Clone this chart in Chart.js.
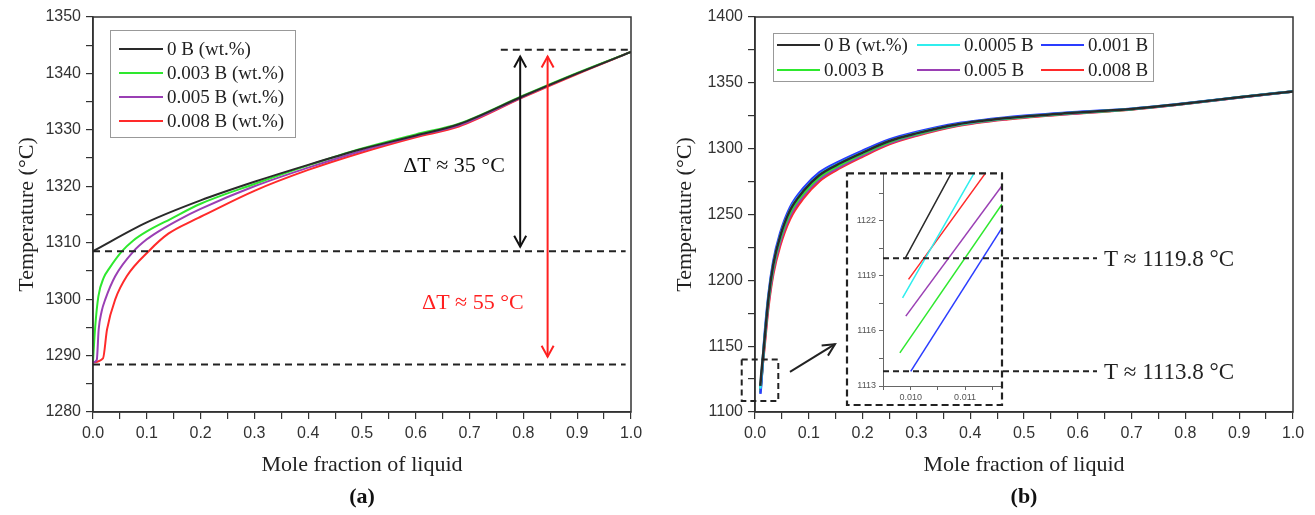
<!DOCTYPE html>
<html>
<head>
<meta charset="utf-8">
<script src="https://cdn.jsdelivr.net/npm/chart.js@4.4.1/dist/chart.umd.min.js"></script>
<style>
  html, body { margin: 0; padding: 0; background: #fff; }
  #wrap { position: relative; width: 1315px; height: 515px; overflow: hidden; }
  canvas { position: absolute; }
</style>
</head>
<body>
<div id="wrap">
  <canvas id="chartA" width="660" height="515" style="left:0;top:0"></canvas>
  <canvas id="chartB" width="655" height="515" style="left:660px;top:0"></canvas>
  <canvas id="inset" width="400" height="250" style="left:840px;top:165px"></canvas>
</div>
<script>
// ---- panel (a) : liquid fraction vs temperature ----
const fracA_0B   = [0, 0.1, 0.2, 0.3, 0.4, 0.5, 0.6, 0.68, 0.8, 0.9, 1.0];
const tempA_0B   = [1308.5, 1313.6, 1317.5, 1320.8, 1323.8, 1326.6, 1329.0, 1331.0, 1336.0, 1340.0, 1343.8];
const fracA_003  = [0, 0.004, 0.01, 0.02, 0.03, 0.054, 0.075, 0.1, 0.144, 0.2, 0.3, 0.4, 0.5, 0.6, 0.68, 0.8, 0.9, 1.0];
const tempA_003  = [1289.0, 1295.0, 1300.5, 1303.8, 1305.4, 1308.5, 1310.4, 1312.0, 1314.2, 1316.9, 1320.4, 1323.7, 1326.7, 1329.2, 1331.1, 1336.1, 1340.1, 1343.8];
const fracA_005  = [0, 0.007, 0.0105, 0.016, 0.023, 0.0415, 0.0756, 0.1, 0.125, 0.162, 0.2, 0.3, 0.4, 0.5, 0.6, 0.68, 0.8, 0.9, 1.0];
const tempA_005  = [1288.8, 1289.2, 1294.6, 1297.8, 1300.0, 1304.1, 1308.5, 1310.6, 1312.2, 1314.2, 1316.0, 1320.0, 1323.3, 1326.3, 1328.9, 1330.8, 1335.9, 1340.0, 1343.8];
const fracA_008  = [0, 0.0186, 0.026, 0.0415, 0.063, 0.1035, 0.14, 0.187, 0.2, 0.3, 0.4, 0.5, 0.6, 0.68, 0.8, 0.9, 1.0];
const tempA_008  = [1288.8, 1289.5, 1294.6, 1300.0, 1304.1, 1308.5, 1311.6, 1314.0, 1314.6, 1319.2, 1322.9, 1326.0, 1328.7, 1330.6, 1335.8, 1339.9, 1343.8];
const labelsA    = ['0 B (wt.%)', '0.003 B (wt.%)', '0.005 B (wt.%)', '0.008 B (wt.%)'];

// ---- panel (b) : first two points of each series are the ones seen in the inset ----
const fracB_0B    = [0.00989, 0.01075, 0.0167, 0.025, 0.034, 0.0465, 0.065, 0.09, 0.12, 0.16, 0.2, 0.25, 0.3, 0.375, 0.47, 0.59, 0.7, 0.78, 0.9, 1.0];
const tempB_0B    = [1119.9, 1124.6, 1150.5, 1186.5, 1212.0, 1233.0, 1253.0, 1267.8, 1280.0, 1289.3, 1297.0, 1305.8, 1311.6, 1318.4, 1323.3, 1327.2, 1330.1, 1333.4, 1339.0, 1343.5];
const fracB_0005  = [0.00985, 0.01117, 0.0167, 0.025, 0.034, 0.0465, 0.065, 0.09, 0.12, 0.16, 0.2, 0.25, 0.3, 0.375, 0.47, 0.59, 0.7, 0.78, 0.9, 1.0];
const tempB_0005  = [1117.8, 1124.6, 1150.8, 1186.8, 1212.2, 1233.2, 1253.2, 1268.0, 1280.2, 1289.5, 1297.1, 1305.9, 1311.7, 1318.4, 1323.3, 1327.2, 1330.1, 1333.4, 1339.0, 1343.5];
const fracB_001   = [0.0100, 0.01168, 0.0167, 0.025, 0.034, 0.0465, 0.065, 0.09, 0.12, 0.16, 0.2, 0.25, 0.3, 0.375, 0.47, 0.59, 0.7, 0.78, 0.9, 1.0];
const tempB_001   = [1113.8, 1121.6, 1152.5, 1189.0, 1214.5, 1235.5, 1255.3, 1270.0, 1282.0, 1291.0, 1298.5, 1307.0, 1312.6, 1319.1, 1323.8, 1327.6, 1330.4, 1333.6, 1339.1, 1343.5];
const fracB_003   = [0.0098, 0.01168, 0.0167, 0.025, 0.034, 0.0465, 0.065, 0.09, 0.12, 0.16, 0.2, 0.25, 0.3, 0.375, 0.47, 0.59, 0.7, 0.78, 0.9, 1.0];
const tempB_003   = [1114.8, 1122.9, 1149.5, 1185.0, 1210.0, 1231.0, 1251.0, 1266.0, 1278.5, 1288.0, 1296.0, 1305.0, 1311.0, 1318.0, 1323.0, 1327.0, 1330.0, 1333.3, 1339.0, 1343.5];
const fracB_005   = [0.00991, 0.01168, 0.0167, 0.025, 0.034, 0.0465, 0.065, 0.09, 0.12, 0.16, 0.2, 0.25, 0.3, 0.375, 0.47, 0.59, 0.7, 0.78, 0.9, 1.0];
const tempB_005   = [1116.8, 1123.9, 1147.5, 1182.5, 1207.5, 1228.5, 1248.8, 1264.2, 1277.0, 1286.8, 1295.0, 1304.2, 1310.4, 1317.6, 1322.7, 1326.8, 1329.9, 1333.2, 1338.9, 1343.5];
const fracB_008   = [0.00996, 0.01138, 0.0167, 0.025, 0.034, 0.0465, 0.065, 0.09, 0.12, 0.16, 0.2, 0.25, 0.3, 0.375, 0.47, 0.59, 0.7, 0.78, 0.9, 1.0];
const tempB_008   = [1118.8, 1124.6, 1145.5, 1180.0, 1205.0, 1226.0, 1246.5, 1262.3, 1275.5, 1285.7, 1294.0, 1303.4, 1309.8, 1317.2, 1322.4, 1326.6, 1329.7, 1333.1, 1338.8, 1343.5];
const labelsB     = ['0 B (wt.%)', '0.0005 B', '0.001 B', '0.003 B', '0.005 B', '0.008 B'];

// annotation values (data units)
const dashA   = [[1344.2, 0.758, 1.0], [1308.5, 0, 0.99], [1288.4, 0, 0.99]];
const arrowsA = [[0.794, 1343.0, 1309.3, '#111'], [0.845, 1343.0, 1289.8, '#ff2020']];
const textsA  = [['\u0394T \u2248 35 \u00B0C', 0.671, 1323.5, '#111'], ['\u0394T \u2248 55 \u00B0C', 0.706, 1299.3, '#ff2020']];
const zoomBoxB = [-0.0247, 0.0433, 1108.4, 1139.9];
const arrowB   = [0.065, 1130.4, 0.1487, 1151.5];
const insetLevels = [[1119.95, 'T \u2248 1119.8 \u00B0C'], [1113.8, 'T \u2248 1113.8 \u00B0C']];

const SERIF = "'Liberation Serif', 'Times New Roman', 'DejaVu Serif', serif";
const SANS = "'Liberation Sans', Arial, 'DejaVu Sans', sans-serif";
Chart.defaults.font.family = SANS;

const C_BLACK = '#2a2a2a', C_CYAN = '#30eeee', C_BLUE = '#2a3cff',
      C_GREEN = '#2ee82e', C_PURPLE = '#9a3fb4', C_RED = '#ff2a2a';

function pts(xs, ys) { return xs.map((x, i) => ({ x: x, y: ys[i] })); }

function ds(label, xs, ys, color, w, smooth) {
  return { label: label, data: pts(xs, ys), borderColor: color, backgroundColor: color,
           borderWidth: w, pointRadius: 0, fill: false,
           cubicInterpolationMode: smooth ? 'monotone' : 'default', tension: 0 };
}

function arrowHead(ctx, x, y, ang, len, half) {
  ctx.beginPath();
  ctx.moveTo(x - len * Math.cos(ang) - half * Math.sin(ang), y - len * Math.sin(ang) + half * Math.cos(ang));
  ctx.lineTo(x, y);
  ctx.lineTo(x - len * Math.cos(ang) + half * Math.sin(ang), y - len * Math.sin(ang) - half * Math.cos(ang));
  ctx.stroke();
}

function drawFrame(chart) {
  const a = chart.chartArea, ctx = chart.ctx;
  ctx.save();
  ctx.strokeStyle = '#333';
  ctx.lineWidth = 1.5;
  ctx.strokeRect(a.left, a.top, a.right - a.left, a.bottom - a.top);
  ctx.restore();
}

function drawLegend(chart, box, rows, cols, lineLen) {
  const ctx = chart.ctx;
  ctx.save();
  ctx.fillStyle = '#fff';
  ctx.fillRect(box[0], box[1], box[2], box[3]);
  ctx.strokeStyle = '#999';
  ctx.lineWidth = 1;
  ctx.strokeRect(box[0] + 0.5, box[1] + 0.5, box[2], box[3]);
  ctx.font = '19px ' + SERIF;
  ctx.textBaseline = 'middle';
  ctx.textAlign = 'left';
  chart.data.datasets.forEach((d, i) => {
    const x = cols[i % cols.length], y = rows[Math.floor(i / cols.length)];
    ctx.strokeStyle = d.borderColor;
    ctx.lineWidth = 2;
    ctx.beginPath(); ctx.moveTo(x, y); ctx.lineTo(x + lineLen, y); ctx.stroke();
    ctx.fillStyle = '#222';
    ctx.fillText(d.label, x + lineLen + 4, y + 1);
  });
  ctx.restore();
}

function panelLabel(chart, txt) {
  const a = chart.chartArea, ctx = chart.ctx;
  ctx.save();
  ctx.font = 'bold 22px ' + SERIF;
  ctx.fillStyle = '#111';
  ctx.textAlign = 'center';
  ctx.textBaseline = 'middle';
  ctx.fillText(txt, (a.left + a.right) / 2, 497);
  ctx.restore();
}

function mainOptions(ymin, ymax, ystep, ymajor, yWidth, padRight, titlePad) {
  return {
    responsive: false,
    animation: false,
    layout: { padding: { left: 0, top: 17, right: padRight, bottom: 0 } },
    plugins: { legend: { display: false }, tooltip: { enabled: false } },
    scales: {
      x: {
        type: 'linear', min: 0, max: 1,
        afterFit: s => { s.height = 103; },
        ticks: { stepSize: 0.05, autoSkip: false, maxRotation: 0, padding: 5,
                 font: { size: 16 }, color: '#333',
                 callback: v => Math.abs(v * 10 - Math.round(v * 10)) < 1e-6 ? v.toFixed(1) : '' },
        grid: { drawOnChartArea: false, tickLength: 7, color: '#333', lineWidth: 1.2 },
        border: { color: '#333', width: 1.5 },
        title: { display: true, text: 'Mole fraction of liquid', color: '#222',
                 font: { family: SERIF, size: 22 }, padding: { top: 0, bottom: 37 } }
      },
      y: {
        type: 'linear', min: ymin, max: ymax,
        afterFit: s => { s.width = yWidth; },
        ticks: { stepSize: ystep, autoSkip: false, padding: 5, font: { size: 16 }, color: '#333',
                 callback: v => (v % ymajor === 0 ? String(v) : '') },
        grid: { drawOnChartArea: false, tickLength: 7, color: '#333', lineWidth: 1.2 },
        border: { color: '#333', width: 1.5 },
        title: { display: true, text: 'Temperature (\u00B0C)', color: '#222',
                 font: { family: SERIF, size: 22 }, padding: { top: titlePad, bottom: 0 } }
      }
    }
  };
}

// ---------- chart (a) ----------
new Chart(document.getElementById('chartA'), {
  type: 'line',
  data: {
    datasets: [
      ds(labelsA[0], fracA_0B, tempA_0B, C_BLACK, 2, true),
      ds(labelsA[1], fracA_003, tempA_003, C_GREEN, 2, true),
      ds(labelsA[2], fracA_005, tempA_005, C_PURPLE, 2, true),
      ds(labelsA[3], fracA_008, tempA_008, C_RED, 2, true)
    ]
  },
  options: mainOptions(1280, 1350, 5, 10, 93, 29, 14),
  plugins: [{
    id: 'annotA',
    afterDraw(chart) {
      const ctx = chart.ctx, sx = chart.scales.x, sy = chart.scales.y;
      drawFrame(chart);
      ctx.save();
      ctx.strokeStyle = '#222';
      ctx.lineWidth = 2;
      ctx.setLineDash([7, 5]);
      dashA.forEach(d => {
        const y = sy.getPixelForValue(d[0]);
        ctx.beginPath(); ctx.moveTo(sx.getPixelForValue(d[1]), y); ctx.lineTo(sx.getPixelForValue(d[2]), y); ctx.stroke();
      });
      ctx.setLineDash([]);
      arrowsA.forEach(a => {
        const x = sx.getPixelForValue(a[0]), y0 = sy.getPixelForValue(a[1]), y1 = sy.getPixelForValue(a[2]);
        ctx.strokeStyle = a[3];
        ctx.lineWidth = 2;
        ctx.beginPath(); ctx.moveTo(x, y0); ctx.lineTo(x, y1); ctx.stroke();
        arrowHead(ctx, x, y0, -Math.PI / 2, 11, 6);
        arrowHead(ctx, x, y1, Math.PI / 2, 11, 6);
      });
      ctx.font = '22px ' + SERIF;
      ctx.textAlign = 'center';
      ctx.textBaseline = 'middle';
      textsA.forEach(t => {
        ctx.fillStyle = t[3];
        ctx.fillText(t[0], sx.getPixelForValue(t[1]), sy.getPixelForValue(t[2]));
      });
      ctx.restore();
      drawLegend(chart, [110, 30, 185, 107], [49, 73, 97, 121], [119], 44);
      panelLabel(chart, '(a)');
    }
  }]
});

// ---------- chart (b) ----------
new Chart(document.getElementById('chartB'), {
  type: 'line',
  data: {
    datasets: [
      ds(labelsB[0], fracB_0B, tempB_0B, C_BLACK, 2.5, true),
      ds(labelsB[1], fracB_0005, tempB_0005, C_CYAN, 2.5, true),
      ds(labelsB[2], fracB_001, tempB_001, C_BLUE, 2.5, true),
      ds(labelsB[3], fracB_003, tempB_003, C_GREEN, 2.5, true),
      ds(labelsB[4], fracB_005, tempB_005, C_PURPLE, 2.5, true),
      ds(labelsB[5], fracB_008, tempB_008, C_RED, 2.5, true)
    ]
  },
  options: mainOptions(1100, 1400, 25, 50, 95, 22, 12),
  plugins: [{
    id: 'annotB',
    afterDraw(chart) {
      const ctx = chart.ctx, sx = chart.scales.x, sy = chart.scales.y;
      drawFrame(chart);
      ctx.save();
      ctx.strokeStyle = '#222';
      ctx.lineWidth = 2;
      ctx.setLineDash([6, 4]);
      const bx0 = sx.getPixelForValue(zoomBoxB[0]), bx1 = sx.getPixelForValue(zoomBoxB[1]);
      const by0 = sy.getPixelForValue(zoomBoxB[3]), by1 = sy.getPixelForValue(zoomBoxB[2]);
      ctx.strokeRect(bx0, by0, bx1 - bx0, by1 - by0);
      ctx.setLineDash([]);
      const ax0 = sx.getPixelForValue(arrowB[0]), ay0 = sy.getPixelForValue(arrowB[1]);
      const ax1 = sx.getPixelForValue(arrowB[2]), ay1 = sy.getPixelForValue(arrowB[3]);
      ctx.beginPath(); ctx.moveTo(ax0, ay0); ctx.lineTo(ax1, ay1); ctx.stroke();
      arrowHead(ctx, ax1, ay1, Math.atan2(ay1 - ay0, ax1 - ax0), 12, 6);
      ctx.restore();
      drawLegend(chart, [113, 33, 380, 48], [45, 70], [117, 257, 381], 43);
      panelLabel(chart, '(b)');
    }
  }]
});

// ---------- inset of (b) ----------
new Chart(document.getElementById('inset'), {
  type: 'line',
  data: {
    datasets: [
      ds(labelsB[0], fracB_0B, tempB_0B, C_BLACK, 1.5, false),
      ds(labelsB[1], fracB_0005, tempB_0005, C_CYAN, 1.5, false),
      ds(labelsB[2], fracB_001, tempB_001, C_BLUE, 1.5, false),
      ds(labelsB[3], fracB_003, tempB_003, C_GREEN, 1.5, false),
      ds(labelsB[4], fracB_005, tempB_005, C_PURPLE, 1.5, false),
      ds(labelsB[5], fracB_008, tempB_008, C_RED, 1.5, false)
    ]
  },
  options: {
    responsive: false,
    animation: false,
    layout: { padding: { left: 0, top: 7, right: 238, bottom: 0 } },
    plugins: { legend: { display: false }, tooltip: { enabled: false } },
    scales: {
      x: {
        type: 'linear', min: 0.00949, max: 0.01168,
        afterFit: s => { s.height = 29; },
        ticks: { stepSize: 0.0005, includeBounds: false, autoSkip: false, maxRotation: 0, padding: 2,
                 font: { size: 9 }, color: '#555',
                 callback: v => Math.abs(v * 1000 - Math.round(v * 1000)) < 1e-6 ? v.toFixed(3) : '' },
        grid: { drawOnChartArea: false, tickLength: 4, color: '#666', lineWidth: 1 },
        border: { color: '#666', width: 1 }
      },
      y: {
        type: 'linear', min: 1113, max: 1124.57,
        afterFit: s => { s.width = 43; },
        ticks: { stepSize: 1.5, includeBounds: false, autoSkip: false, padding: 3,
                 font: { size: 9 }, color: '#555',
                 callback: v => (v % 3 === 0 ? String(v) : '') },
        grid: { drawOnChartArea: false, tickLength: 4, color: '#666', lineWidth: 1 },
        border: { color: '#666', width: 1 }
      }
    }
  },
  plugins: [{
    id: 'insetBox',
    beforeDraw(chart) {
      const a = chart.chartArea, ctx = chart.ctx;
      ctx.save();
      ctx.fillStyle = '#fff';
      ctx.fillRect(a.left - 36, a.top, a.right - a.left + 36, a.bottom - a.top + 19);
      ctx.restore();
    },
    afterDraw(chart) {
      const a = chart.chartArea, ctx = chart.ctx, sy = chart.scales.y;
      ctx.save();
      ctx.strokeStyle = '#222';
      ctx.lineWidth = 2.2;
      ctx.setLineDash([7, 4]);
      ctx.strokeRect(a.left - 36, a.top, a.right - a.left + 36, a.bottom - a.top + 19);
      ctx.lineWidth = 2;
      ctx.setLineDash([6, 4]);
      ctx.font = '23px ' + SERIF;
      ctx.fillStyle = '#222';
      ctx.textAlign = 'left';
      ctx.textBaseline = 'middle';
      insetLevels.forEach(l => {
        const y = sy.getPixelForValue(l[0]);
        ctx.beginPath(); ctx.moveTo(a.left, y); ctx.lineTo(a.left + 214, y); ctx.stroke();
        ctx.fillText(l[1], a.left + 221, y + 2);
      });
      ctx.restore();
    }
  }]
});
</script>
</body>
</html>
